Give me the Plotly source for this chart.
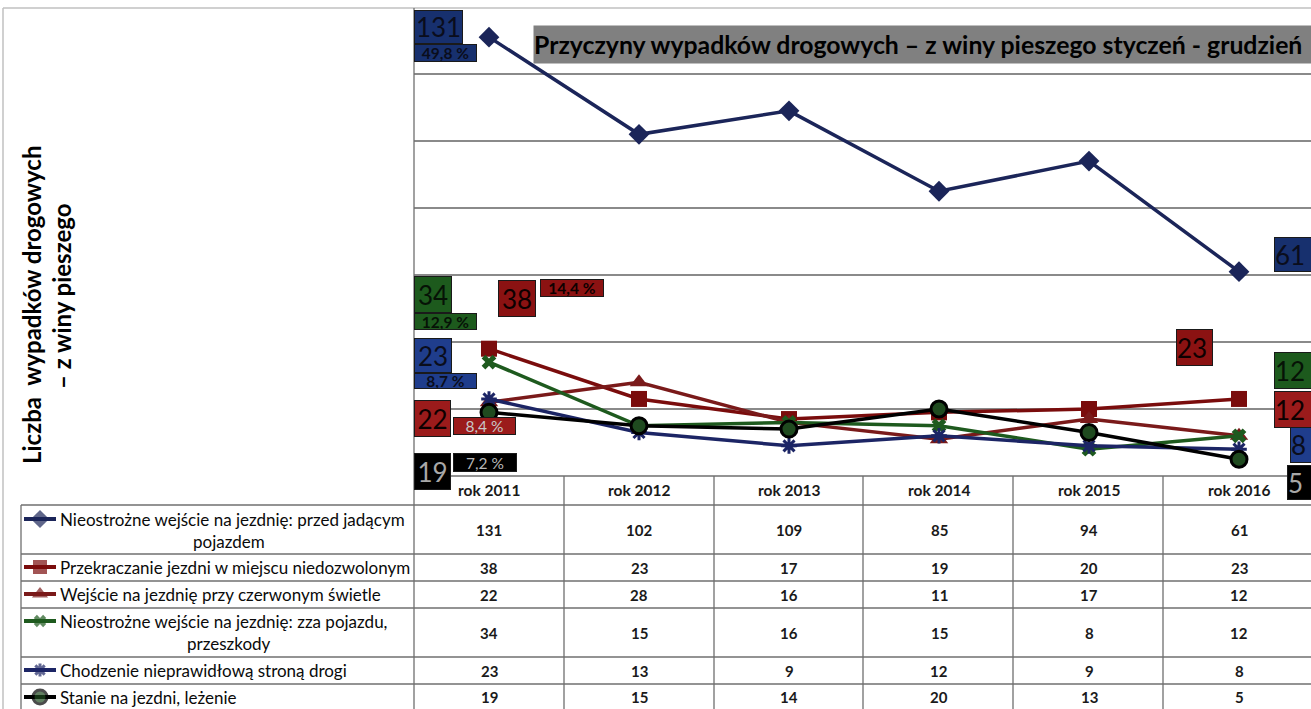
import plotly.graph_objects as go

# ---------------- data ----------------
years = ["rok 2011", "rok 2012", "rok 2013", "rok 2014", "rok 2015", "rok 2016"]
series_names = [
    "Nieostrożne wejście na jezdnię: przed jadącym pojazdem",
    "Przekraczanie jezdni w miejscu niedozwolonym",
    "Wejście na jezdnię przy czerwonym świetle",
    "Nieostrożne wejście na jezdnię: zza pojazdu, przeszkody",
    "Chodzenie nieprawidłową stroną drogi",
    "Stanie na jezdni, leżenie",
]
przed_pojazdem = [131, 102, 109, 85, 94, 61]
niedozwolone = [38, 23, 17, 19, 20, 23]
czerwone = [22, 28, 16, 11, 17, 12]
zza_pojazdu = [34, 15, 16, 15, 8, 12]
zla_strona = [23, 13, 9, 12, 9, 8]
stanie = [19, 15, 14, 20, 13, 5]
pct_2011 = ["49,8 %", "14,4 %", "8,4 %", "12,9 %", "8,7 %", "7,2 %"]

title_text = "Przyczyny wypadków drogowych – z winy pieszego styczeń - grudzień"
ytitle_1 = "Liczba  wypadków drogowych"
ytitle_2 = "– z winy pieszego"

all_series = [przed_pojazdem, niedozwolone, czerwone, zza_pojazdu, zla_strona, stanie]

# ---------------- styles ----------------
W, H = 1311, 709
FONT = "Lato, Carlito, 'Liberation Sans', sans-serif"


def px(x):
    return x / W


def py(y):
    return 1 - y / H


line_colors = ["#1b2559", "#7a0c0c", "#7a1a1a", "#1e5a1e", "#1c2565", "#000000"]
symbols = ["diamond", "square", "triangle-up", "x", "asterisk-open", "circle"]
msizes = [16, 16, 16, 13, 13, 16]
mfill = ["#1b2559", "#7a0c0c", "#7a1a1a", "#1e5a1e", "#1c2565", "#1f4a1f"]
mline = [0, 0, 0, 0, 3, 3]
box_colors = ["#17306e", "#8b1212", "#9b1b1b", "#1d5a1d", "#1f3d8c", "#000000"]
box_text = ["#0a0d1c", "#0d0000", "#0d0000", "#061206", "#0a0d1c", "#a8a8a8"]

fig = go.Figure()

for i, vals in enumerate(all_series):
    fig.add_trace(go.Scatter(
        x=years, y=vals, mode="lines+markers", name=series_names[i],
        line=dict(color=line_colors[i], width=3.5),
        marker=dict(symbol=symbols[i], size=msizes[i], color=mfill[i],
                    line=dict(color=line_colors[i], width=mline[i])),
        showlegend=False, cliponaxis=False, xaxis="x", yaxis="y",
    ))

# table rows geometry (pixel positions)
row_tops = [505, 554, 581, 608, 657, 684, 712]
row_first_line = [519, 567, 594, 621, 670, 697]
wrap = [True, False, False, True, False, False]

# legend icons in table (overlay axes in pixel space)
for i in range(6):
    yc = row_first_line[i]
    fig.add_trace(go.Scatter(
        x=[24, 40, 56], y=[yc, yc, yc], mode="lines+markers",
        line=dict(color=line_colors[i], width=4),
        marker=dict(symbol=symbols[i], size=[0, msizes[i] - 2, 0], color=mfill[i],
                    line=dict(color=line_colors[i], width=mline[i])),
        showlegend=False, xaxis="x2", yaxis="y2", hoverinfo="skip",
    ))

annotations = []
LEG_FONT = dict(family=FONT, size=17, color="#0a0a0a")

# legend texts
for i, name in enumerate(series_names):
    if wrap[i]:
        l1, l2 = name.rsplit(" ", 1)
        annotations.append(dict(text=l1, x=px(58), y=py(row_first_line[i]), xref="paper", yref="paper",
                                xanchor="left", yanchor="middle", showarrow=False, font=LEG_FONT))
        annotations.append(dict(text=l2, x=px(229), y=py(row_first_line[i] + 22), xref="paper", yref="paper",
                                xanchor="center", yanchor="middle", showarrow=False, font=LEG_FONT))
    else:
        annotations.append(dict(text=name, x=px(58), y=py(row_first_line[i]), xref="paper", yref="paper",
                                xanchor="left", yanchor="middle", showarrow=False, font=LEG_FONT))

# header row (years)
for yr in years:
    annotations.append(dict(text=yr, x=yr, y=py(490), xref="x", yref="paper",
                            xanchor="center", yanchor="middle", showarrow=False,
                            font=dict(family=FONT, size=15.5, color="#1a1a1a", weight="bold")))

# values
for i, vals in enumerate(all_series):
    yc = (row_tops[i] + row_tops[i + 1]) / 2
    if i == 5:
        yc = 697
    for yr, v in zip(years, vals):
        annotations.append(dict(text=str(v), x=yr, y=py(yc), xref="x", yref="paper",
                                xanchor="center", yanchor="middle", showarrow=False,
                                font=dict(family=FONT, size=15, color="#1a1a1a", weight="bold")))

# data-label boxes (pixel placement: left, top, width, height)
first_boxes = [(414, 10, 49, 34), (498, 280, 38, 37), (414, 400, 37, 37),
               (414, 276, 38, 37), (414, 338, 38, 35), (414, 453, 37, 37)]
pct_boxes = [(414, 44, 63, 18), (540, 279, 64, 18), (453, 417, 63, 18),
             (414, 313, 63, 17), (414, 373, 63, 16), (453, 453, 64, 19)]
last_boxes = [(1274, 237, 40, 35), (1176, 329, 37, 37), (1274, 391, 40, 37),
              (1274, 352, 40, 37), (1290, 427, 24, 36), (1287, 465, 27, 35)]
pct_text = ["#0a0d1c", "#0d0000", "#c8c8c8", "#061206", "#0a0d1c", "#b8b8b8"]


def box(text, b, bg, fc, size, bold=False, align="center"):
    x0, y0, w, h = b
    return dict(text=text, x=px(x0), y=py(y0), xref="paper", yref="paper",
                xanchor="left", yanchor="top", showarrow=False,
                width=w - 2, height=h - 2, bgcolor=bg, bordercolor="#1a1a1a",
                borderwidth=1, borderpad=0, align=align, valign="middle",
                font=dict(family=FONT, size=size, color=fc,
                          weight="bold" if bold else "normal"))


order = [0, 1, 3, 4, 2, 5]
for i in order:
    vals = all_series[i]
    annotations.append(box(str(vals[0]), first_boxes[i], box_colors[i], box_text[i], 26))
    annotations.append(box(pct_2011[i], pct_boxes[i], box_colors[i], pct_text[i], 15.5,
                           bold=(i not in (2, 5))))
for i in [0, 1, 3, 2, 4, 5]:
    vals = all_series[i]
    annotations.append(box(str(vals[-1]), last_boxes[i], box_colors[i], box_text[i], 26,
                           align="left"))

# title
annotations.append(dict(text=title_text, x=px(533), y=py(25), xref="paper", yref="paper",
                        xanchor="left", yanchor="top", showarrow=False,
                        width=782, height=37, bgcolor="#808080", borderpad=0, align="left",
                        font=dict(family=FONT, size=24.8, color="#000000", weight="bold")))

# y-axis title (two lines)
annotations.append(dict(text=ytitle_1, x=px(31), y=py(305), xref="paper", yref="paper",
                        xanchor="center", yanchor="middle", textangle=-90, showarrow=False,
                        font=dict(family=FONT, size=24, color="#000000", weight="bold")))
annotations.append(dict(text=ytitle_2, x=px(61), y=py(296), xref="paper", yref="paper",
                        xanchor="center", yanchor="middle", textangle=-90, showarrow=False,
                        font=dict(family=FONT, size=24, color="#000000", weight="bold")))

# ---------------- shapes (frame & table grid) ----------------
shapes = []
GRID = "#6f6f6f"


def hline(y, x0, x1, color=GRID, w=1.3):
    shapes.append(dict(type="line", xref="paper", yref="paper", x0=px(x0), x1=px(x1),
                       y0=py(y), y1=py(y), line=dict(color=color, width=w), layer="above"))


def vline(x, y0, y1, color=GRID, w=1.3):
    shapes.append(dict(type="line", xref="paper", yref="paper", x0=px(x), x1=px(x),
                       y0=py(y0), y1=py(y1), line=dict(color=color, width=w), layer="above"))


# outer chart frame
hline(8, 3, W, color="#c0c0c0", w=1.5)
vline(3, 8, H, color="#c0c0c0", w=1.5)
# table
hline(476, 414, W)
for yy in row_tops[:-1]:
    hline(yy, 21, W)
vline(21, 505, H)
vline(414, 8, H)
for xx in [564, 714, 863, 1013, 1163]:
    vline(xx, 476, H)

fig.update_layout(
    width=W, height=H,
    margin=dict(l=0, r=0, t=0, b=0),
    paper_bgcolor="white", plot_bgcolor="rgba(0,0,0,0)",
    showlegend=False,
    xaxis=dict(type="category", categoryorder="array", categoryarray=years,
               range=[-0.5, 5.48], domain=[px(414), 1], showgrid=False,
               showline=False, zeroline=False, showticklabels=False, ticks=""),
    yaxis=dict(range=[0, 140], dtick=20, domain=[py(476), py(7)], showgrid=True,
               gridcolor="#8a8a8a", gridwidth=1.5, showline=False, zeroline=False,
               showticklabels=False, ticks=""),
    xaxis2=dict(range=[0, W], domain=[0, 1], visible=False, anchor="y2", fixedrange=True),
    yaxis2=dict(range=[H, 0], domain=[0, 1], visible=False, anchor="x2", fixedrange=True),
    annotations=annotations,
    shapes=shapes,
    font=dict(family=FONT),
)

fig.write_html("out.html", config={"displayModeBar": False},
               post_script="document.body.style.margin='0px';document.body.style.overflow='hidden';")
